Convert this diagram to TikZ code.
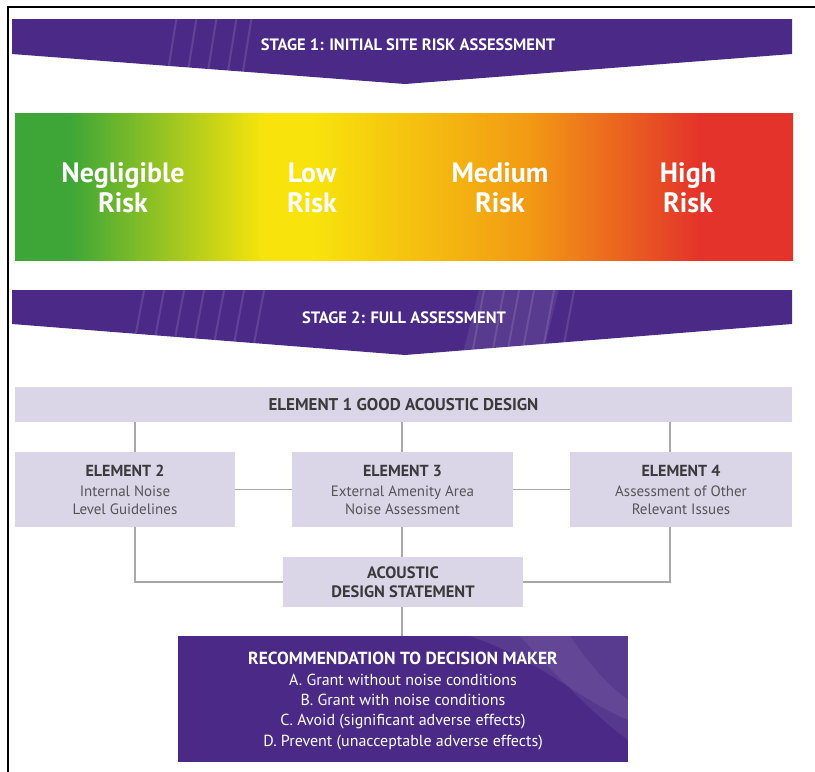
\documentclass[tikz,border=0pt]{standalone}
\usepackage{fontspec}
\setmainfont{PT Sans}
\definecolor{ban}{HTML}{4A2A86}
\definecolor{lav}{HTML}{DBD5E8}
\definecolor{lin}{HTML}{A8A8A8}
\definecolor{txt}{HTML}{3A3A3A}
\definecolor{txtb}{HTML}{555555}
\definecolor{rg}{HTML}{3DA637}
\definecolor{ry}{HTML}{F8E40C}
\definecolor{ro}{HTML}{F29A14}
\definecolor{rr}{HTML}{E4332A}
\pgfdeclarehorizontalshading{risk}{100bp}{color(0bp)=(rg); color(26bp)=(rg); color(28.5bp)=(rg); color(41bp)=(ry); color(44bp)=(ry); color(58bp)=(ro); color(69bp)=(rr); color(100bp)=(rr)}
\newcommand{\eltitle}[1]{{\fontsize{16}{18}\selectfont\bfseries\color{txt}#1}\\[3pt]}
\tikzset{
  banner/.style={fill=ban},
  bantext/.style={text=white, font=\fontsize{16.5}{18}\selectfont\bfseries},
  risktext/.style={text=white, font=\fontsize{28}{30}\selectfont\bfseries, align=center},
  lavbox/.style={fill=lav, draw=none, text=txt, align=center, inner sep=0pt},
  elbox/.style={lavbox, minimum height=75pt, text=txtb, font=\fontsize{15}{17.5}\selectfont},
  conn/.style={draw=lin, line width=1.3pt},
  streak/.style={white, opacity=0.12, line width=2pt},
}
\begin{document}
\begin{tikzpicture}[x=1pt,y=-1pt]
\useasboundingbox (0,0) rectangle (815,772);
% frame lines
\draw[black, line width=1.2pt] (8,772) -- (8,7) -- (815,7);
% stage 1 banner
\begin{scope}
\clip (12,19) -- (792,19) -- (792,54) -- (405,84) -- (12,54) -- cycle;
\fill[banner] (0,0) rectangle (815,100);
\foreach \x in {165,185,205,225,240} {\draw[streak] (\x+12,15) -- (\x,90);}
\end{scope}
\node[bantext] (s1) at (408,45) {STAGE 1: INITIAL SITE RISK ASSESSMENT};
% risk bar
\shade[shading=risk] (15,113) rectangle (793,260);
\node[risktext] (r1) at (123,188) {Negligible\\Risk};
\node[risktext] (r2) at (312,188) {Low\\Risk};
\node[risktext] (r3) at (500,188) {Medium\\Risk};
\node[risktext] (r4) at (688,188) {High\\Risk};
% stage 2 banner
\begin{scope}
\clip (12,290) -- (792,290) -- (792,324) -- (405,355) -- (12,324) -- cycle;
\fill[banner] (0,280) rectangle (815,370);
\foreach \x in {130,150,170,190,210,230,250,470,490,505,520,540,560} {\draw[streak] (\x+15,285) -- (\x,365);}
\fill[white, opacity=0.08] (480,285) -- (560,285) -- (540,365) -- (460,365) -- cycle;
\end{scope}
\node[bantext] (s2) at (404,318) {STAGE 2: FULL ASSESSMENT};
% element boxes
\coordinate (c2) at (135,0);
\coordinate (c3) at (402,0);
\coordinate (c4) at (670,0);
\node[lavbox, minimum width=777pt, minimum height=35pt, font=\fontsize{17}{19}\selectfont\bfseries] (e1) at (403.5,404.5) {ELEMENT 1 GOOD ACOUSTIC DESIGN};
\node[elbox, minimum width=220pt] (e2) at (125,489.5) {\eltitle{ELEMENT 2}Internal Noise\\Level Guidelines};
\node[elbox, minimum width=221pt] (e3) at (402.5,489.5) {\eltitle{ELEMENT 3}External Amenity Area\\Noise Assessment};
\node[elbox, minimum width=222pt] (e4) at (681,489.5) {\eltitle{ELEMENT 4}Assessment of Other\\Relevant Issues};
\node[lavbox, minimum width=240pt, minimum height=50pt, font=\fontsize{16.5}{18.5}\selectfont\bfseries] (ads) at (403,582) {ACOUSTIC\\DESIGN STATEMENT};
% recommendation box
\begin{scope}
\clip (178,636) rectangle (628,762);
\fill[ban] (178,636) rectangle (628,762);
\fill[white, opacity=0.08] (470,636) .. controls (540,660) and (580,700) .. (628,720) -- (628,636) -- cycle;
\fill[white, opacity=0.07] (520,636) .. controls (560,680) and (600,720) .. (628,740) -- (628,700) .. controls (600,680) and (580,650) .. (570,636) -- cycle;
\end{scope}
\node[draw=none, inner sep=0pt, minimum width=450pt, minimum height=126pt] (rec) at (403,699) {};
\node[text=white, align=center, font=\fontsize{16}{20.4}\selectfont] (rect) at (403,701) {{\fontsize{17.5}{20.4}\selectfont\bfseries RECOMMENDATION TO DECISION MAKER}\\A. Grant without noise conditions\\B. Grant with noise conditions\\C. Avoid (significant adverse effects)\\D. Prevent (unacceptable adverse effects)};
% connectors
\draw[conn] (e1.south -| c2) -- (e2.north -| c2);
\draw[conn] (e1.south -| c3) -- (e3.north -| c3);
\draw[conn] (e1.south -| c4) -- (e4.north -| c4);
\draw[conn] (e2.east) -- (e3.west);
\draw[conn] (e3.east) -- (e4.west);
\draw[conn] (e2.south -| c2) |- (ads.west);
\draw[conn] (e4.south -| c4) |- (ads.east);
\draw[conn] (e3.south -| c3) -- (ads.north -| c3);
\draw[conn] (ads.south -| c3) -- (rec.north -| c3);
\end{tikzpicture}
\end{document}
